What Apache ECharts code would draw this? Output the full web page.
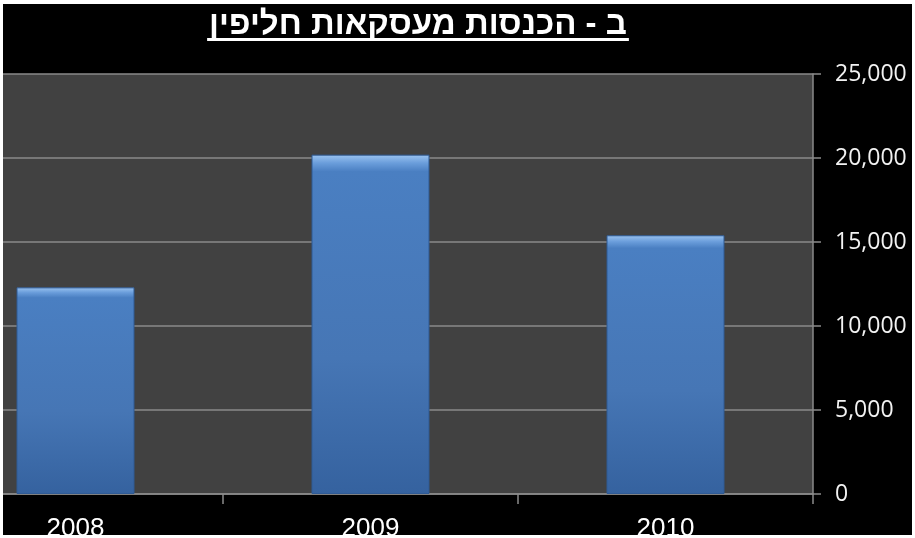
<!DOCTYPE html>
<html>
<head>
<meta charset="utf-8">
<script src="https://cdn.jsdelivr.net/npm/echarts@6/dist/echarts.min.js"></script>
<style>
  html, body { margin: 0; padding: 0; background: #ffffff; }
  #frame { position: absolute; left: 3px; top: 4px; width: 909px; height: 531px; background: #000000; overflow: hidden; }
  /* the plot's first category starts left of the visible frame */
  #chart { position: absolute; left: -75px; top: 0; width: 984px; height: 531px; }
</style>
</head>
<body>
<div id="frame"><div id="chart"></div></div>
<script>
// Chart data
const titleText = 'ב - הכנסות מעסקאות חליפין';
const years = ['2008', '2009', '2010'];
const revenue = [12300, 20200, 15400];
const yTicks = { min: 0, max: 25000, step: 5000 };

const shiftX = 75;
const titleFont = 'bold 33px "Liberation Sans", Arial, sans-serif';
const titleCenterX = 415 + shiftX;

// measure the title so the underline spans it
const measureCtx = document.createElement('canvas').getContext('2d');
measureCtx.font = titleFont;
const titleWidth = measureCtx.measureText(titleText).width;

const chart = echarts.init(document.getElementById('chart'), null, { renderer: 'canvas' });

chart.setOption({
  backgroundColor: '#000000',
  animation: false,
  grid: {
    left: 0,
    right: 99,
    top: 70,
    bottom: 41,
    containLabel: false,
    outerBoundsMode: 'none',
    show: true,
    backgroundColor: '#414141',
    borderWidth: 0
  },
  graphic: [
    {
      type: 'text',
      left: titleCenterX - titleWidth / 2,
      top: 4,
      style: {
        text: titleText,
        font: titleFont,
        fill: '#ffffff'
      }
    },
    {
      type: 'rect',
      shape: { x: titleCenterX - titleWidth / 2 - 2, y: 34, width: titleWidth + 4, height: 3 },
      style: { fill: '#ffffff' }
    }
  ],
  xAxis: {
    type: 'category',
    data: years,
    axisLine: { show: true, lineStyle: { color: '#8a8a8a', width: 1.5 } },
    axisTick: { show: true, length: 10, lineStyle: { color: '#8a8a8a', width: 1.5 } },
    axisLabel: {
      color: '#ffffff',
      fontFamily: '"Liberation Sans", Arial, sans-serif',
      fontSize: 26,
      margin: 22
    }
  },
  yAxis: {
    type: 'value',
    position: 'right',
    min: yTicks.min,
    max: yTicks.max,
    interval: yTicks.step,
    axisLine: { show: true, lineStyle: { color: '#8a8a8a', width: 1.5 } },
    axisTick: { show: true, length: 8, lineStyle: { color: '#8a8a8a', width: 1.5 } },
    splitLine: { show: true, lineStyle: { color: '#8a8a8a', width: 1.5 } },
    axisLabel: {
      color: '#f2f2f2',
      fontFamily: '"Open Sans", sans-serif',
      fontSize: 23,
      margin: 22,
      formatter: v => v.toLocaleString('en-US')
    }
  },
  series: [{
    type: 'bar',
    data: revenue,
    barWidth: '40%',
    itemStyle: {
      color: new echarts.graphic.LinearGradient(0, 0, 0, 1, [
        { offset: 0, color: '#9cc4f0' },
        { offset: 0.025, color: '#6a9ddb' },
        { offset: 0.05, color: '#4a7fc2' },
        { offset: 0.6, color: '#4676b5' },
        { offset: 1, color: '#35629f' }
      ]),
      borderColor: '#2f5a94',
      borderWidth: 1
    }
  }]
});
</script>
</body>
</html>
